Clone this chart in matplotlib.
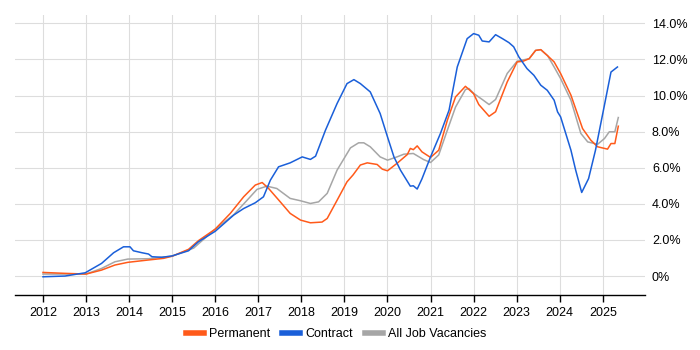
import matplotlib
matplotlib.use("Agg")
import matplotlib.pyplot as plt
from matplotlib.lines import Line2D

# Series data (decimal year, percent)
perm_t = [2012.0, 2012.5, 2013.0, 2013.36, 2013.67, 2013.97, 2014.45, 2014.8, 2015.0, 2015.38,
          2015.61, 2016.0, 2016.35, 2016.66, 2016.93, 2017.09, 2017.24, 2017.51, 2017.74, 2017.98,
          2018.21, 2018.48, 2018.6, 2018.83, 2019.06, 2019.2, 2019.37, 2019.53, 2019.76, 2019.88,
          2020.0, 2020.22, 2020.46, 2020.53, 2020.6, 2020.69, 2020.8, 2021.0, 2021.19, 2021.39,
          2021.58, 2021.81, 2022.0, 2022.12, 2022.36, 2022.51, 2022.78, 2023.01, 2023.15, 2023.29,
          2023.44, 2023.56, 2023.72, 2023.87, 2024.02, 2024.26, 2024.53, 2024.72, 2024.88, 2025.11,
          2025.19, 2025.28, 2025.36]
perm_v = [0.2, 0.15, 0.11, 0.33, 0.61, 0.76, 0.89, 0.98, 1.1, 1.48,
          1.96, 2.6, 3.47, 4.39, 5.04, 5.18, 4.85, 4.11, 3.47, 3.1,
          2.95, 2.99, 3.19, 4.2, 5.22, 5.6, 6.15, 6.27, 6.18, 5.92,
          5.83, 6.24, 6.73, 7.07, 7.0, 7.21, 6.88, 6.57, 6.97, 8.63,
          9.92, 10.51, 10.1, 9.5, 8.85, 9.1, 10.75, 11.86, 11.9, 12.04,
          12.5, 12.54, 12.2, 11.86, 11.22, 10.02, 8.17, 7.53, 7.16, 7.03,
          7.34, 7.34, 8.3]

cont_t = [2012.0, 2012.51, 2012.98, 2013.36, 2013.64, 2013.87, 2014.02, 2014.1, 2014.3, 2014.45,
          2014.53, 2014.76, 2014.99, 2015.38, 2015.61, 2016.0, 2016.43, 2016.66, 2016.93, 2017.12,
          2017.28, 2017.47, 2017.74, 2018.02, 2018.21, 2018.33, 2018.56, 2018.83, 2019.06, 2019.22,
          2019.37, 2019.6, 2019.83, 2020.0, 2020.15, 2020.3, 2020.53, 2020.6, 2020.69, 2020.8,
          2021.0, 2021.23, 2021.43, 2021.62, 2021.85, 2022.0, 2022.12, 2022.2, 2022.36, 2022.51,
          2022.67, 2022.82, 2022.93, 2023.05, 2023.24, 2023.4, 2023.56, 2023.71, 2023.87, 2023.95,
          2024.02, 2024.26, 2024.37, 2024.51, 2024.67, 2024.83, 2025.03, 2025.19, 2025.34]
cont_v = [-0.04, 0.0, 0.18, 0.7, 1.29, 1.62, 1.62, 1.4, 1.29, 1.22,
          1.07, 1.04, 1.11, 1.4, 1.9, 2.48, 3.38, 3.74, 4.06, 4.39,
          5.31, 6.05, 6.27, 6.6, 6.46, 6.64, 8.08, 9.56, 10.66, 10.88,
          10.66, 10.2, 9.0, 7.71, 6.6, 5.87, 4.98, 5.0, 4.82, 5.38,
          6.6, 7.9, 9.19, 11.58, 13.15, 13.43, 13.34, 13.02, 12.97, 13.37,
          13.15, 12.93, 12.7, 12.14, 11.49, 11.12, 10.57, 10.29, 9.74, 9.09,
          8.82, 6.97, 5.87, 4.63, 5.4, 6.97, 9.37, 11.3, 11.58]

all_t = [2012.0, 2013.0, 2013.36, 2013.67, 2013.97, 2014.45, 2014.76, 2015.0, 2015.5, 2016.0,
         2016.43, 2016.74, 2016.97, 2017.2, 2017.43, 2017.74, 2017.98, 2018.21, 2018.4, 2018.6,
         2018.83, 2019.14, 2019.33, 2019.45, 2019.6, 2019.83, 2020.0, 2020.22, 2020.38, 2020.6,
         2020.84, 2021.0, 2021.19, 2021.39, 2021.58, 2021.81, 2021.89, 2022.0, 2022.2, 2022.36,
         2022.51, 2022.78, 2023.01, 2023.29, 2023.44, 2023.56, 2023.72, 2023.87, 2024.02, 2024.26,
         2024.49, 2024.65, 2024.88, 2025.04, 2025.15, 2025.28, 2025.36]
all_v = [0.11, 0.11, 0.42, 0.79, 0.94, 0.96, 1.04, 1.1, 1.55, 2.6,
         3.4, 4.2, 4.8, 4.98, 4.85, 4.3, 4.17, 4.02, 4.11, 4.58,
         5.87, 7.1, 7.38, 7.38, 7.16, 6.6, 6.42, 6.6, 6.75, 6.79,
         6.45, 6.29, 6.71, 8.08, 9.36, 10.33, 10.39, 10.12, 9.78, 9.5,
         9.78, 11.22, 11.9, 12.04, 12.5, 12.54, 12.2, 11.58, 10.94, 9.74,
         7.9, 7.43, 7.3, 7.62, 7.99, 7.99, 8.78]

years = list(range(2012, 2026))
yticks = [0, 2, 4, 6, 8, 10, 12, 14]
ytick_labels = ["0%", "2.0%", "4.0%", "6.0%", "8.0%", "10.0%", "12.0%", "14.0%"]

orange = "#FF5A1A"
blue = "#1A5FD9"
grey = "#A6A6A6"

plt.rcParams['font.family'] = ['Liberation Sans', 'DejaVu Sans']

fig = plt.figure(figsize=(7, 3.5), dpi=100)
ax = fig.add_axes([15 / 700, 55 / 350, 630 / 700, 280 / 350])

ax.plot(all_t, all_v, color=grey, lw=1.1)
ax.plot(perm_t, perm_v, color=orange, lw=1.1)
ax.plot(cont_t, cont_v, color=blue, lw=1.1)

ax.set_xlim(2011.35, 2025.98)
ax.set_ylim(-1.05, 14.46)

ax.set_xticks(years)
ax.set_xticklabels([str(y) for y in years], fontsize=9)
ax.set_yticks(yticks)
ax.set_yticklabels(ytick_labels, fontsize=9)
ax.yaxis.tick_right()
ax.tick_params(axis='y', length=0, pad=5)
ax.tick_params(axis='x', length=5, width=1, color='black', pad=4)

ax.grid(True, color='#DDDDDD', lw=0.8)
ax.set_axisbelow(True)
for side in ['top', 'left', 'right']:
    ax.spines[side].set_visible(False)
ax.spines['bottom'].set_color('black')
ax.spines['bottom'].set_linewidth(1)

handles = [Line2D([], [], color=orange, lw=4),
           Line2D([], [], color=blue, lw=4),
           Line2D([], [], color=grey, lw=4)]
fig.legend(handles, ['Permanent', 'Contract', 'All Job Vacancies'], loc='center',
           bbox_to_anchor=(0.48, 0.045), ncol=3, frameon=False, fontsize=9,
           handlelength=1.4, handletextpad=0.4, columnspacing=1.0)

fig.savefig("out.png", dpi=100)
